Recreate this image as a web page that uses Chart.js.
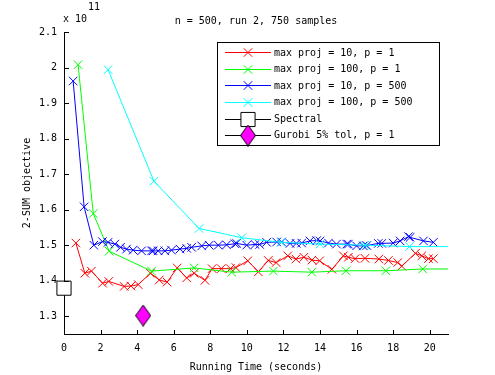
<!DOCTYPE html>
<html><head><meta charset="utf-8">
<script src="https://cdn.jsdelivr.net/npm/chart.js@4.4.0/dist/chart.umd.min.js"></script>
<style>html,body{margin:0;padding:0;background:#fff}#wrap{width:495px;height:375px}</style>
</head><body><div id="wrap"><canvas id="c" width="495" height="375"></canvas></div>
<script>
const chartTitle = 'n = 500, run 2, 750 samples';
const xTitle = 'Running Time (seconds)';
const yTitle = '2-SUM objective';
const yExponentBase = 'x 10';
const yExponent = '11';
const xTicks = [0, 2, 4, 6, 8, 10, 12, 14, 16, 18, 20];
const yTicks = [1.3, 1.4, 1.5, 1.6, 1.7, 1.8, 1.9, 2.0, 2.1];
const yTickLabels = ['1.3', '1.4', '1.5', '1.6', '1.7', '1.8', '1.9', '2', '2.1'];
const seriesNames = ['max proj = 10, p = 1', 'max proj = 100, p = 1', 'max proj = 10, p = 500',
  'max proj = 100, p = 500', 'Spectral', 'Gurobi 5% tol, p = 1'];

const redTime = [0.65, 1.14, 1.5, 2.11, 2.45, 3.29, 3.66, 4.06, 4.73, 5.21, 5.64, 6.19, 6.71, 7.12, 7.71,
  8.1, 8.6, 9.1, 9.4, 10.05, 10.63, 11.17, 11.6, 12.24, 12.68, 13.12, 13.56, 13.98, 14.65, 15.28, 15.55,
  15.92, 16.46, 17.22, 17.74, 18.25, 18.47, 19.22, 19.57, 19.93, 20.2];
const redObj = [1.506, 1.421, 1.427, 1.393, 1.398, 1.384, 1.385, 1.389, 1.421, 1.402, 1.396, 1.436, 1.408, 1.421, 1.401,
  1.434, 1.434, 1.434, 1.437, 1.456, 1.425, 1.457, 1.451, 1.470, 1.461, 1.466, 1.458, 1.456, 1.432, 1.470, 1.466,
  1.462, 1.463, 1.461, 1.457, 1.451, 1.441, 1.477, 1.470, 1.462, 1.462];

const greenTime = [0.77, 1.6, 2.47, 4.79, 7.12, 9.17, 11.45, 13.55, 15.42, 17.6, 19.62, 21.7];
const greenObj = [2.008, 1.589, 1.483, 1.427, 1.436, 1.424, 1.427, 1.424, 1.428, 1.428, 1.433, 1.433];

const blueTime = [0.5, 1.1, 1.63, 2.1, 2.41, 2.78, 3.09, 3.42, 3.78, 4.24, 4.79, 4.88, 5.15, 5.52, 5.88, 6.34,
  6.71, 6.98, 7.53, 7.94, 8.44, 8.89, 9.35, 9.44, 9.99, 10.45, 10.7, 11.08, 11.63, 11.9, 12.36, 12.7, 13.0,
  13.45, 13.82, 14.0, 14.46, 14.9, 15.46, 15.55, 16.0, 16.37, 16.56, 17.19, 17.38, 18.0, 18.38, 18.84, 18.93,
  19.66, 20.2];
const blueObj = [1.962, 1.608, 1.500, 1.510, 1.508, 1.503, 1.494, 1.489, 1.486, 1.484, 1.484, 1.484, 1.484, 1.484, 1.486, 1.489,
  1.491, 1.494, 1.498, 1.500, 1.500, 1.501, 1.504, 1.505, 1.500, 1.502, 1.502, 1.508, 1.509, 1.509, 1.505, 1.505, 1.506,
  1.512, 1.513, 1.512, 1.506, 1.503, 1.503, 1.503, 1.498, 1.498, 1.499, 1.505, 1.505, 1.506, 1.512, 1.524, 1.522,
  1.512, 1.508];

const cyanTime = [2.41, 4.92, 7.39, 9.72, 11.87, 14.0, 16.46, 18.89, 21.3];
const cyanObj = [1.994, 1.680, 1.547, 1.521, 1.508, 1.503, 1.500, 1.496, 1.496];

const spectralTime = [0];
const spectralObj = [1.379];
const gurobiTime = [4.33];
const gurobiObj = [1.302];

const FONT = 'DejaVu Sans Mono';
const pts = (xs, ys) => xs.map((x, i) => ({x: x, y: ys[i]}));

// diamond marker image
const diamond = document.createElement('canvas');
diamond.width = 16; diamond.height = 22;
(function () {
  const g = diamond.getContext('2d');
  g.beginPath();
  g.moveTo(8, 0.5); g.lineTo(15.5, 11); g.lineTo(8, 21.5); g.lineTo(0.5, 11); g.closePath();
  g.fillStyle = '#ff00ff'; g.fill();
  g.strokeStyle = '#000'; g.lineWidth = 1; g.stroke();
})();

const clipRight = {left: false, top: false, right: 0, bottom: false};
function xSeries(name, xs, ys, color, order) {
  return {label: name, data: pts(xs, ys), borderColor: color, backgroundColor: color, borderWidth: 1,
    pointStyle: 'crossRot', pointRadius: 6, pointBorderColor: color, pointBorderWidth: 1,
    pointBackgroundColor: 'rgba(0,0,0,0)', tension: 0, clip: clipRight, order: order};
}
const datasets = [
  xSeries(seriesNames[0], redTime, redObj, '#ff0000', 6),
  xSeries(seriesNames[1], greenTime, greenObj, '#00ff00', 5),
  xSeries(seriesNames[2], blueTime, blueObj, '#0000ff', 4),
  xSeries(seriesNames[3], cyanTime, cyanObj, '#00ffff', 3),
  {label: seriesNames[4], data: pts(spectralTime, spectralObj), borderColor: '#000', borderWidth: 1,
    pointStyle: 'rect', pointRadius: 10, pointBorderColor: '#000', pointBackgroundColor: '#fff',
    pointBorderWidth: 1, clip: false, order: 2},
  {label: seriesNames[5], data: pts(gurobiTime, gurobiObj), borderColor: '#000', borderWidth: 1,
    pointStyle: diamond, pointRadius: 10, pointBorderColor: '#000', pointBackgroundColor: '#ff00ff',
    pointBorderWidth: 1, clip: false, order: 1}
];

const decorPlugin = {
  id: 'decor',
  afterDraw(chart) {
    const ctx = chart.ctx;
    const xs = chart.scales.x, ys = chart.scales.y;
    const a = chart.chartArea;
    ctx.save();
    // inward ticks
    ctx.strokeStyle = '#000'; ctx.lineWidth = 1;
    ctx.beginPath();
    xTicks.forEach(v => {
      const px = Math.round(xs.getPixelForValue(v)) + 0.5;
      ctx.moveTo(px, Math.round(a.bottom)); ctx.lineTo(px, Math.round(a.bottom) - 4);
    });
    yTicks.forEach(v => {
      const py = Math.round(ys.getPixelForValue(v)) + 0.5;
      ctx.moveTo(Math.round(a.left), py); ctx.lineTo(Math.round(a.left) + 5, py);
    });
    ctx.stroke();
    // exponent label
    ctx.fillStyle = '#000';
    ctx.font = '10px "' + FONT + '"';
    ctx.textAlign = 'left'; ctx.textBaseline = 'middle';
    ctx.fillText(yExponentBase, 63, 19.5);
    ctx.fillText(yExponent, 88, 7.5);
    // legend
    const bx = 217.5, by = 42.5, bw = 222, bh = 103;
    ctx.fillStyle = '#fff'; ctx.fillRect(bx, by, bw, bh);
    ctx.strokeStyle = '#000'; ctx.strokeRect(bx, by, bw, bh);
    const rows = [52, 68.5, 85, 101.5, 118.5, 134.5];
    chart.data.datasets.forEach((ds, i) => {
      const y = rows[i];
      ctx.strokeStyle = ds.borderColor; ctx.lineWidth = 1;
      ctx.beginPath(); ctx.moveTo(225, Math.round(y) + 0.5); ctx.lineTo(271, Math.round(y) + 0.5); ctx.stroke();
      ctx.strokeStyle = ds.pointBorderColor; ctx.fillStyle = ds.pointBackgroundColor;
      Chart.helpers.drawPoint(ctx, {pointStyle: ds.pointStyle, rotation: 0, radius: ds.pointRadius,
        borderWidth: ds.pointBorderWidth}, 248, Math.round(y) + 0.5);
      ctx.fillStyle = '#000';
      ctx.font = '10px "' + FONT + '"';
      ctx.textAlign = 'left'; ctx.textBaseline = 'middle';
      ctx.fillText(ds.label, 274, y + 1);
    });
    ctx.restore();
  }
};

const tickFont = {family: FONT, size: 10};
new Chart(document.getElementById('c'), {
  type: 'line',
  data: {datasets: datasets},
  options: {
    responsive: false, animation: false, devicePixelRatio: 1,
    layout: {padding: {left: 0, right: 47, top: 0, bottom: 0}},
    plugins: {
      legend: {display: false}, tooltip: {enabled: false},
      title: {display: true, text: chartTitle, color: '#000', fullSize: false,
        font: {family: FONT, size: 10, weight: 'normal'}, padding: {top: 15, bottom: 5}}
    },
    scales: {
      x: {type: 'linear', min: 0, max: 21,
        afterBuildTicks: s => { s.ticks = xTicks.map(v => ({value: v})); },
        afterFit: s => { s.height = 41; },
        grid: {display: false, drawTicks: false},
        border: {display: true, color: '#000', width: 1},
        ticks: {padding: 8, color: '#000', font: tickFont, autoSkip: false, maxRotation: 0},
        title: {display: true, text: xTitle, color: '#000', font: tickFont, padding: {top: 0, bottom: 2}}},
      y: {type: 'linear', min: 1.25, max: 2.1,
        afterBuildTicks: s => { s.ticks = yTicks.map(v => ({value: v})); },
        afterFit: s => { s.width = 64; },
        grid: {display: false, drawTicks: false},
        border: {display: true, color: '#000', width: 1},
        ticks: {padding: 7, color: '#000', font: tickFont, autoSkip: false,
          callback: (v, i) => yTickLabels[i]},
        title: {display: true, text: yTitle, color: '#000', font: tickFont, padding: {top: 21, bottom: 0}}}
    }
  },
  plugins: [decorPlugin]
});
</script></body></html>
